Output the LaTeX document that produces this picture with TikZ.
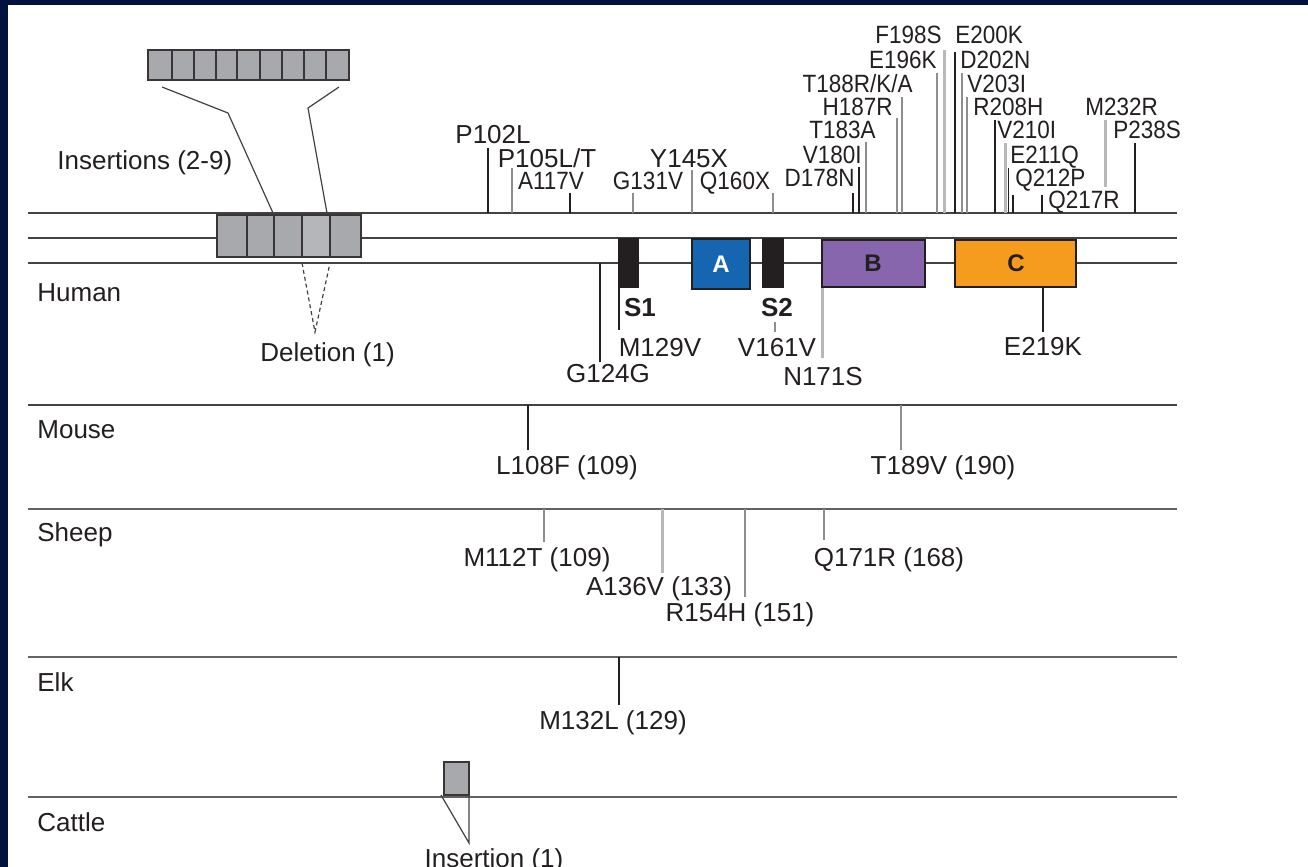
\documentclass[tikz,border=0pt]{standalone}
\usepackage{fontspec}
\setmainfont{Liberation Sans}
\newfontfamily\narrowsf{Liberation Sans}[FakeStretch=0.9]
\usepackage{xcolor}
\definecolor{ink}{HTML}{231F20}
\definecolor{navy}{HTML}{02123F}
\definecolor{cellgray}{HTML}{A7A9AC}
\definecolor{cellpale}{HTML}{B4B6B9}
\definecolor{tickgray}{HTML}{8E8E8E}
\definecolor{ticklight}{HTML}{B8B8B8}
\definecolor{domA}{HTML}{1565B0}
\definecolor{domB}{HTML}{8866AD}
\definecolor{domC}{HTML}{F59C1F}

\begin{document}
\begin{tikzpicture}[x=0.5pt, y=-0.5pt,
  lab/.style={font=\fontsize{13}{13}\selectfont, inner sep=0pt, text height=9.3pt, text depth=0pt, text=ink},
  nlab/.style={font=\narrowsf\fontsize{12.5}{12.5}\selectfont, inner sep=0pt, text height=8.9pt, text depth=0pt, text=ink},
  blab/.style={lab, font=\bfseries\fontsize{13}{13}\selectfont},
  dlab/.style={lab, font=\bfseries\fontsize{12}{12}\selectfont, text height=8.6pt},
  track/.style={line width=0.9pt, draw=ink!85},
  strack/.style={line width=0.9pt, draw=ink!70},
  cell/.style={draw=ink!90, fill=cellgray, line width=0.8pt},
  dom/.style={draw=ink, line width=0.6pt},
  link/.style={draw=ink!85, line width=0.6pt},
  tk/.style={line width=0.75pt, draw=ink},
  tkg/.style={line width=0.75pt, draw=tickgray},
  tkl/.style={line width=1.5pt, draw=ticklight}
]
\useasboundingbox (0,0) rectangle (1308,867);
\fill[navy] (0,0) rectangle (1308,867);
\fill[white] (8,5) rectangle (1308,867);

% human tracks
\draw[track] (28,213) -- (1177,213);
\draw[track] (28,238) -- (1177,238);
\draw[track] (28,263) -- (1177,263);
% species tracks
\draw[track] (28,405) -- (1177,405);
\draw[strack] (28,509) -- (1177,509);
\draw[strack] (28,657) -- (1177,657);
\draw[strack] (28,797) -- (1177,797);

% insertion repeats
\foreach \a/\b in {148/172,172/194,194/216,216/237,237/260,260/282,282/304,304/326,326/349}
  \draw[cell] (\a,50) rectangle (\b,80);
\foreach \a/\b in {217/247,247/274,274/302,330/361}
  \draw[cell] (\a,215) rectangle (\b,257);
\draw[cell, fill=cellpale] (302,215) rectangle (330,257);
\draw[link] (162,87) -- (228,113) -- (273,213);
\draw[link] (339,87) -- (308,108) -- (327,213);
\draw[link, dash pattern=on 2pt off 1.5pt] (302,263) -- (315,332) -- (330,263);

% domains
\draw[dom, fill=ink] (619,239) rectangle (638,287);
\draw[dom, fill=domA] (692,239) rectangle (750,289);
\draw[dom, fill=ink] (763,239) rectangle (783,287);
\draw[dom, fill=domB] (822,240) rectangle (925,287);
\draw[dom, fill=domC] (955,240) rectangle (1076,287);
\node[dlab, text=white] (dA) at (721,264) {A};
\node[dlab] (dB) at (873,263) {B};
\node[dlab] (dC) at (1016,263) {C};
\node[blab] (s1) at (640,307) {S1};
\node[blab] (s2) at (777,307) {S2};

% human ticks above
\draw[tk] (488,148) -- (488,213);
\draw[tkg] (512,168) -- (512,213);
\draw[tk] (570,193) -- (570,213);
\draw[tkg] (633,193) -- (633,213);
\draw[tkg] (692,170) -- (692,213);
\draw[tkg] (773,193) -- (773,213);
\draw[tk] (853,193) -- (853,213);
\draw[tk] (859,167) -- (859,213);
\draw[tkg] (866,142) -- (866,213);
\draw[tkg] (897,118) -- (897,213);
\draw[tkg] (902,97) -- (902,213);
\draw[tkg] (937,73) -- (937,213);
\draw[tkl] (944.5,50) -- (944.5,213);
\draw[tk] (955,52) -- (955,213);
\draw[tkg] (962,73) -- (962,213);
\draw[tkg] (967,97) -- (967,213);
\draw[tk] (995,120) -- (995,213);
\draw[tkl] (1005,143) -- (1005,213);
\draw[tk] (1008.5,168) -- (1008.5,213);
\draw[tk] (1013,195) -- (1013,213);
\draw[tk] (1042,195) -- (1042,213);
\draw[tkl] (1105,120) -- (1105,187);
\draw[tk] (1135,143) -- (1135,213);
% human ticks below
\draw[tk] (600,263) -- (600,362);
\draw[tk] (619,287) -- (619,330);
\draw[tkg] (775,322) -- (775,332);
\draw[tkl] (822,288) -- (822,358);
\draw[tk] (1043,287) -- (1043,332);

% human labels
\node[lab] (p102) at (493,134) {P102L};
\node[lab] (p105) at (547,158) {P105L/T};
\node[nlab] (a117) at (551,181) {A117V};
\node[nlab] (g131) at (648,181) {G131V};
\node[lab] (y145) at (689,158) {Y145X};
\node[nlab] (q160) at (735,181) {Q160X};
\node[nlab, anchor=east] (d178) at (855,178) {D178N};
\node[nlab, anchor=east] (v180) at (862,155) {V180I};
\node[nlab, anchor=east] (t183) at (876,130) {T183A};
\node[nlab, anchor=east] (h187) at (893,107) {H187R};
\node[nlab, anchor=east] (t188) at (913,84) {T188R/K/A};
\node[nlab, anchor=east] (e196) at (937,60) {E196K};
\node[nlab, anchor=east] (f198) at (942,35) {F198S};
\node[nlab, anchor=west] (e200) at (955,35) {E200K};
\node[nlab, anchor=west] (d202) at (960,60) {D202N};
\node[nlab, anchor=west] (v203) at (967,84) {V203I};
\node[nlab, anchor=west] (r208) at (973,107) {R208H};
\node[nlab, anchor=west] (v210) at (997,130) {V210I};
\node[nlab, anchor=west] (e211) at (1010,155) {E211Q};
\node[nlab, anchor=west] (q212) at (1015,178) {Q212P};
\node[nlab, anchor=west] (q217) at (1048,200) {Q217R};
\node[nlab, anchor=west] (m232) at (1085,107) {M232R};
\node[nlab, anchor=west] (p238) at (1113,130) {P238S};
\node[lab] (g124) at (608,373) {G124G};
\node[lab] (m129) at (660,347) {M129V};
\node[lab] (v161) at (777,347) {V161V};
\node[lab] (n171) at (823,376) {N171S};
\node[lab] (e219) at (1043,346) {E219K};
\node[lab, anchor=west] (ins) at (57,160) {Insertions (2-9)};
\node[lab, anchor=west] (del) at (260,352) {Deletion (1)};

% species
\node[lab, anchor=west] (human) at (37,292) {Human};
\node[lab, anchor=west] (mouse) at (37,429) {Mouse};
\node[lab, anchor=west] (sheep) at (37,532) {Sheep};
\node[lab, anchor=west] (elk) at (37,682) {Elk};
\node[lab, anchor=west] (cattle) at (37,822) {Cattle};

% mouse
\draw[tk] (528,405) -- (528,450);
\draw[tkg] (901,405) -- (901,450);
\node[lab] (l108) at (567,465) {L108F (109)};
\node[lab] (t189) at (943,465) {T189V (190)};
% sheep
\draw[tkg] (544,509) -- (544,542);
\draw[tkl] (662,509) -- (662,573);
\draw[tkg] (745,509) -- (745,597);
\draw[tkg] (824,509) -- (824,540);
\node[lab] (m112) at (537,557) {M112T (109)};
\node[lab] (a136) at (659,586) {A136V (133)};
\node[lab] (r154) at (740,612) {R154H (151)};
\node[lab] (q171) at (889,557) {Q171R (168)};
% elk
\draw[tk] (619,657) -- (619,705);
\node[lab] (m132) at (613,720) {M132L (129)};
% cattle
\draw[cell] (444,762) rectangle (469,795);
\draw[link] (441,795) -- (469,843) -- (469,795);
\node[lab] (ins1) at (494,858) {Insertion (1)};
\end{tikzpicture}
\end{document}
